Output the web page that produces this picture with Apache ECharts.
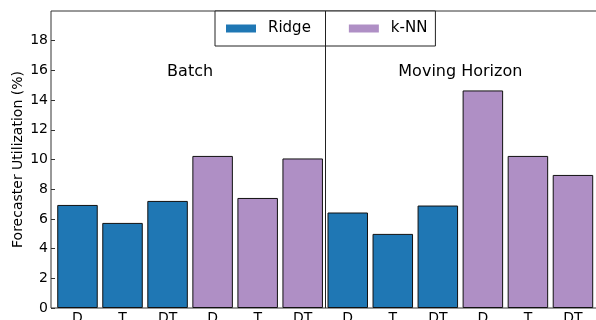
<!DOCTYPE html>
<html>
<head>
<meta charset="utf-8">
<script src="https://cdn.jsdelivr.net/npm/echarts@6/dist/echarts.min.js"></script>
<style>
  html, body { margin: 0; padding: 0; background: #fff; }
  #chart { width: 596px; height: 320px; }
</style>
</head>
<body>
<div id="chart"></div>
<script>
// Forecaster utilization per feature set, for two model types in two modes
const categories = ['D', 'T', 'DT', 'D', 'T', 'DT', 'D', 'T', 'DT', 'D', 'T', 'DT'];
const ridgeIdx = [0, 1, 2, 6, 7, 8];
const ridgeVals = [6.94, 5.73, 7.21, 6.43, 4.99, 6.90];
const knnIdx = [3, 4, 5, 9, 10, 11];
const knnVals = [10.24, 7.41, 10.07, 14.65, 10.24, 8.96];
const yTicks = [0, 2, 4, 6, 8, 10, 12, 14, 16, 18];
const groupNames = ['Batch', 'Moving Horizon'];
const groupPos = [[2.5, 15.9], [8.5, 15.9]];
const dividerX = 5.5;

const FONT = 'DejaVu Sans';
const chart = echarts.init(document.getElementById('chart'), null, { renderer: 'canvas' });

const pairs = (idx, vals) => idx.map((x, i) => [x, vals[i]]);

chart.setOption({
  animation: false,
  backgroundColor: '#fff',
  textStyle: { fontFamily: FONT },
  grid: {
    // right side of the frame runs past the canvas edge
    left: 51, right: -2, top: 11, bottom: 12,
    outerBoundsMode: 'none', containLabel: false,
    show: true, borderColor: '#333', borderWidth: 1, backgroundColor: 'transparent'
  },
  legend: {
    data: ['Ridge', 'k-NN'],
    left: 215, top: 11,
    padding: [10, 8, 10, 11],
    itemWidth: 30, itemHeight: 8, itemGap: 38,
    icon: 'rect',
    borderColor: '#222', borderWidth: 1,
    backgroundColor: '#fff',
    itemStyle: { borderWidth: 0 },
    textStyle: { fontFamily: FONT, fontSize: 15, color: '#000', lineHeight: 15, padding: [0, 0, 0, 7] }
  },
  xAxis: {
    type: 'value',
    min: -0.588, max: 11.556,
    axisLine: { show: false, onZero: false },
    axisTick: { show: false },
    splitLine: { show: false },
    axisLabel: {
      customValues: categories.map((_, i) => i),
      formatter: v => categories[Math.round(v)],
      fontFamily: FONT, fontSize: 14, color: '#000', margin: 3
    }
  },
  yAxis: {
    type: 'value',
    min: 0, max: 20, interval: 2,
    name: 'Forecaster Utilization (%)',
    nameLocation: 'middle', nameGap: 26, nameMoveOverlap: false,
    nameTextStyle: { fontFamily: FONT, fontSize: 14, color: '#000' },
    axisLine: { show: false, onZero: false },
    axisTick: { show: true, inside: true, length: 4, customValues: yTicks, lineStyle: { color: '#333' } },
    splitLine: { show: false },
    axisLabel: {
      customValues: yTicks,
      fontFamily: FONT, fontSize: 14, color: '#000', margin: 3
    }
  },
  series: [
    {
      name: 'Ridge', type: 'bar',
      data: pairs(ridgeIdx, ridgeVals),
      barWidth: 40.5, barGap: '-100%',
      itemStyle: { color: '#1f77b4', borderColor: '#111', borderWidth: 1 },
      markLine: {
        silent: true, symbol: 'none', label: { show: false },
        lineStyle: { color: '#222', width: 1, type: 'solid' },
        data: [{ xAxis: dividerX }]
      }
    },
    {
      name: 'k-NN', type: 'bar',
      data: pairs(knnIdx, knnVals),
      barWidth: 40.5, barGap: '-100%',
      itemStyle: { color: '#af8fc5', borderColor: '#111', borderWidth: 1 }
    },
    {
      name: 'groups', type: 'scatter',
      symbolSize: 0,
      itemStyle: { opacity: 1 },
      data: groupPos.map((p, i) => ({ value: p, name: groupNames[i] })),
      label: {
        show: true, position: 'inside', formatter: p => p.name,
        fontFamily: FONT, fontSize: 16, color: '#000', opacity: 1
      }
    }
  ]
});
</script>
</body>
</html>
